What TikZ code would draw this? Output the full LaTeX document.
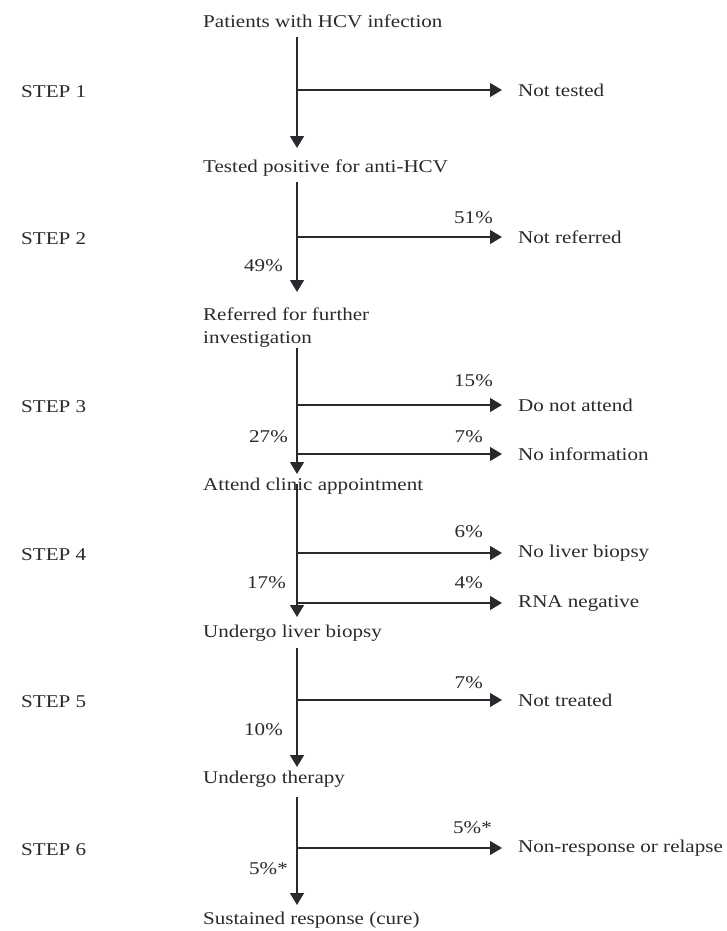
\documentclass[tikz,border=0pt]{standalone}
\usepackage{fontspec}
\setmainfont{Liberation Serif}[FakeStretch=1.17]
\usetikzlibrary{arrows.meta}
\definecolor{ink}{HTML}{2A2A2E}
\begin{document}
\begin{tikzpicture}[x=1pt,y=-1pt,
  font=\fontsize{18}{23}\selectfont,
  every node/.style={text=ink, inner sep=0pt},
  stage/.style={anchor=base west, align=left},
  outcome/.style={anchor=west, inner xsep=16pt, inner ysep=0pt},
  steplabel/.style={anchor=west},
  pct/.style={anchor=base east},
  flow/.style={draw=ink, line width=1.4pt},
  arr/.style={flow, -{Triangle[length=12pt,width=14pt]}}]
\useasboundingbox (0,0) rectangle (726,931);

% stages
\node[stage] (p1) at (203,28) {Patients with HCV infection};
\node[stage] (p2) at (203,172) {Tested positive for anti-HCV};
\node[stage] (p3) at (203,343) {Referred for further\\investigation};
\node[stage] (p4) at (203,490) {Attend clinic appointment};
\node[stage] (p5) at (203,637) {Undergo liver biopsy};
\node[stage] (p6) at (203,783) {Undergo therapy};
\node[stage] (p7) at (203,924) {Sustained response (cure)};

% step labels
\node[steplabel] (st1) at (21,92) {STEP 1};
\node[steplabel] (st2) at (21,239) {STEP 2};
\node[steplabel] (st3) at (21,407) {STEP 3};
\node[steplabel] (st4) at (21,555) {STEP 4};
\node[steplabel] (st5) at (21,702) {STEP 5};
\node[steplabel] (st6) at (21,850) {STEP 6};

% main vertical coordinates
\coordinate (a1) at (297,37);  \coordinate (t1) at (297,148);
\coordinate (a2) at (297,182); \coordinate (t2) at (297,292);
\coordinate (a3) at (297,348); \coordinate (t3) at (297,474);
\coordinate (a4) at (297,484); \coordinate (t4) at (297,617);
\coordinate (a5) at (297,648); \coordinate (t5) at (297,767);
\coordinate (a6) at (297,797); \coordinate (t6) at (297,905);

% branch points
\coordinate (b1) at (297,90);
\coordinate (b2) at (297,237);
\coordinate (b3a) at (297,405);
\coordinate (b3b) at (297,454);
\coordinate (b4a) at (297,553);
\coordinate (b4b) at (297,603);
\coordinate (b5) at (297,700);
\coordinate (b6) at (297,848);

% outcomes
\node[outcome] (r1) at (502,90) {Not tested};
\node[outcome] (r2) at (502,237) {Not referred};
\node[outcome] (r3a) at (502,405) {Do not attend};
\node[outcome] (r3b) at (502,454) {No information};
\node[outcome] (r4a) at (502,553) {No liver biopsy};
\node[outcome] (r4b) at (502,603) {RNA negative};
\node[outcome] (r5) at (502,700) {Not treated};
\node[outcome] (r6) at (502,848) {Non-response or relapse};

% vertical arrows
\draw[arr] (a1) -- (t1);
\draw[arr] (a2) -- (t2);
\draw[arr] (a3) -- (t3);
\draw[arr] (a4) -- (t4);
\draw[arr] (a5) -- (t5);
\draw[arr] (a6) -- (t6);

% horizontal arrows
\draw[arr] (b1) -- (r1.west);
\draw[arr] (b2) -- (r2.west);
\draw[arr] (b3a) -- (r3a.west);
\draw[arr] (b3b) -- (r3b.west);
\draw[arr] (b4a) -- (r4a.west);
\draw[arr] (b4b) -- (r4b.west);
\draw[arr] (b5) -- (r5.west);
\draw[arr] (b6) -- (r6.west);

% percentages (right)
\node[pct] (q2) at (493,223) {51\%};
\node[pct] (q3a) at (493,386) {15\%};
\node[pct] (q3b) at (483,442) {7\%};
\node[pct] (q4a) at (483,537) {6\%};
\node[pct] (q4b) at (483,588) {4\%};
\node[pct] (q5) at (483,688) {7\%};
\node[pct] (q6) at (492,833) {5\%*};

% percentages (left)
\node[pct] (l2) at (283,271) {49\%};
\node[pct] (l3) at (288,442) {27\%};
\node[pct] (l4) at (286,588) {17\%};
\node[pct] (l5) at (283,735) {10\%};
\node[pct] (l6) at (288,874) {5\%*};
\end{tikzpicture}
\end{document}
